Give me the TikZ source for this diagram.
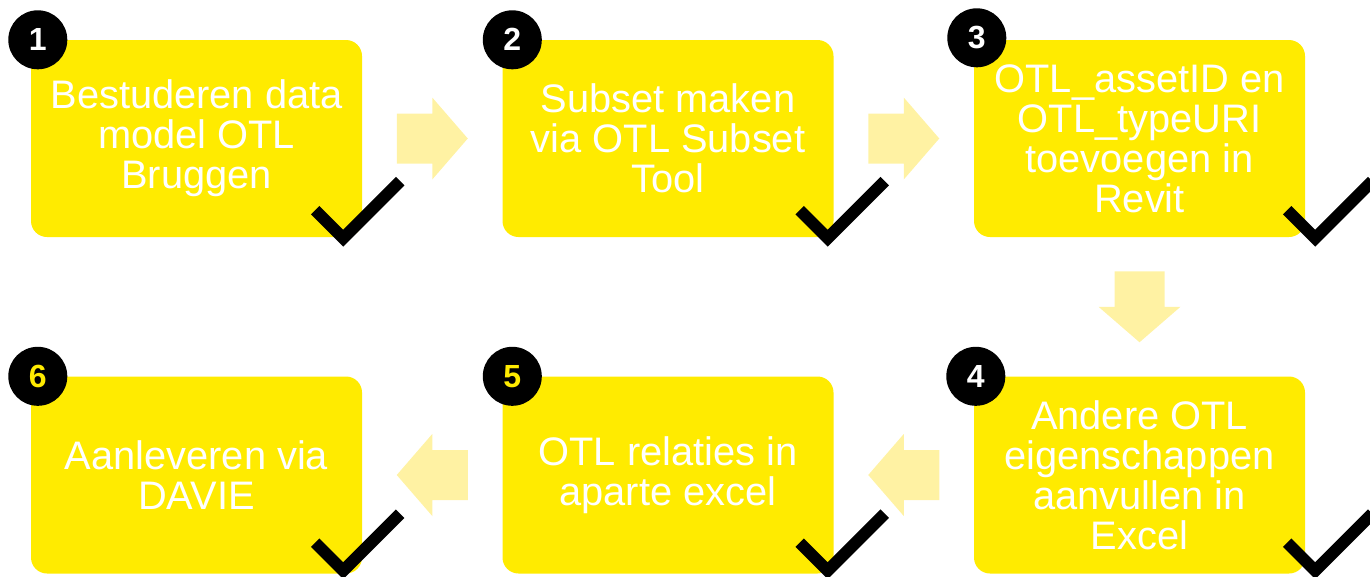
\documentclass[tikz,border=0pt]{standalone}
\usepackage{fontspec}
\setmainfont{Liberation Sans}
\usetikzlibrary{positioning,calc}
\definecolor{otlyellow}{HTML}{FFEB00}
\definecolor{arrowyellow}{HTML}{FFF2A3}

\begin{document}
\begin{tikzpicture}[x=1pt,y=-1pt,
    stepbox/.style={fill=otlyellow, rounded corners=16pt, minimum width=331pt, minimum height=197pt,
        inner sep=0pt, text=white, align=center, font=\fontsize{39.8}{40}\selectfont},
    numdot/.style={circle, fill=black, minimum size=59pt, inner sep=0pt, font=\fontsize{32}{32}\selectfont\bfseries},
    tick/.style={draw=black, line width=12pt, line join=miter},
    fatarrow/.pic={\fill[arrowyellow] (-35.5,-25) -- (0,-25) -- (0,-41) -- (35.5,0) -- (0,41) -- (0,25) -- (-35.5,25) -- cycle;}]
    \useasboundingbox (0,0) rectangle (1370,576);

    % steps
    \node[stepbox] (b1) at (196.5,138.5) {Bestuderen data\\model OTL\\Bruggen};
    \node[stepbox] (b2) at (668,138.5) {Subset maken\\via OTL Subset\\Tool};
    \node[stepbox] (b3) at (1139.5,138.5) {OTL\_assetID en\\OTL\_typeURI\\toevoegen in\\Revit};
    \node[stepbox] (b4) at (1139.5,475) {Andere OTL\\eigenschappen\\aanvullen in\\Excel};
    \node[stepbox] (b5) at (668,475) {OTL relaties in\\aparte excel};
    \node[stepbox] (b6) at (196.5,475) {Aanleveren via\\DAVIE};

    % arrows between steps
    \pic at ($(b1.east)!0.5!(b2.west)$) {fatarrow};
    \pic at ($(b2.east)!0.5!(b3.west)$) {fatarrow};
    \pic[rotate=-90] at ($(b3.south)!0.5!(b4.north)$) {fatarrow};
    \pic[rotate=180] at ($(b4.west)!0.5!(b5.east)$) {fatarrow};
    \pic[rotate=180] at ($(b5.west)!0.5!(b6.east)$) {fatarrow};

    % numbers
    \node[numdot, text=white] (n1) at ($(b1.north west)+(7,0)$) {1};
    \node[numdot, text=white] (n2) at ($(b2.north west)+(10,0)$) {2};
    \node[numdot, text=white] (n3) at ($(b3.north west)+(3,-2)$) {3};
    \node[numdot, text=white] (n4) at ($(b4.north west)+(2,0)$) {4};
    \node[numdot, text=otlyellow] (n5) at ($(b5.north west)+(10,0)$) {5};
    \node[numdot, text=otlyellow] (n6) at ($(b6.north west)+(7,0)$) {6};

    % check marks
    \draw[tick] ($(b1.south east)+(-19,1)$) ++(-28,-28) -- ++(28,28) -- ++(57,-57);
    \draw[tick] ($(b2.south east)+(-6,1)$) ++(-28,-28) -- ++(28,28) -- ++(57,-57);
    \draw[tick] ($(b3.south east)+(10,1)$) ++(-28,-28) -- ++(28,28) -- ++(57,-57);
    \draw[tick] ($(b4.south east)+(10,-3)$) ++(-28,-28) -- ++(28,28) -- ++(57,-57);
    \draw[tick] ($(b5.south east)+(-6,-3)$) ++(-28,-28) -- ++(28,28) -- ++(57,-57);
    \draw[tick] ($(b6.south east)+(-19,-3)$) ++(-28,-28) -- ++(28,28) -- ++(57,-57);
\end{tikzpicture}
\end{document}
